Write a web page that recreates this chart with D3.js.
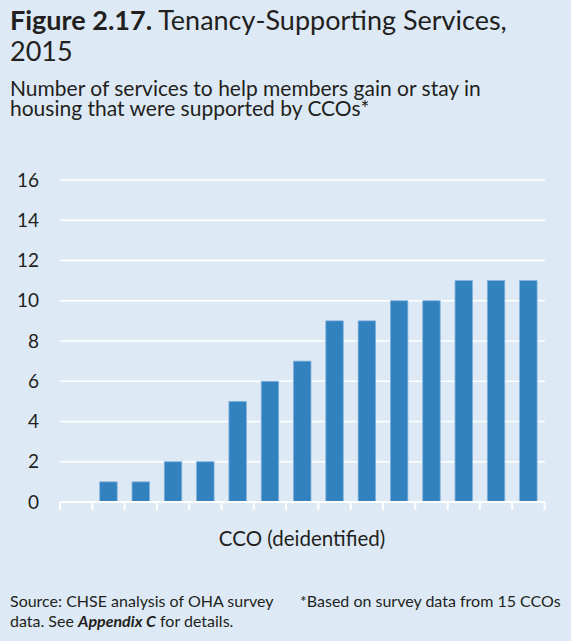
<!DOCTYPE html>
<html><head><meta charset="utf-8">
<script src="https://cdn.jsdelivr.net/npm/d3@7"></script>
<style>
html,body{margin:0;padding:0;background:#DDEAF6;}
svg{display:block;font-family:Lato,"Open Sans",sans-serif;}
</style></head>
<body><svg id="c" width="571" height="641"></svg>
<script>
const categories = d3.range(1,16).map(i=>"CCO "+i);
const values = [0,1,1,2,2,5,6,7,9,9,10,10,11,11,11];
const yTicks = [0,2,4,6,8,10,12,14,16];

const svg = d3.select("#c");
svg.append("rect").attr("width",571).attr("height",641).attr("fill","#DDEAF6");

const x = d3.scaleBand().domain(categories).range([60,544.5]).paddingInner(0.46).paddingOuter(0.23);
const y = d3.scaleLinear().domain([0,16]).range([502,180]);
const ink = "#231f20";

// title
const t = svg.append("text").attr("x",10).attr("y",30).attr("font-size",27).attr("fill",ink);
t.append("tspan").attr("font-weight","bold").text("Figure 2.17.");
t.append("tspan").text(" Tenancy-Supporting Services,");
svg.append("text").attr("x",10).attr("y",61).attr("font-size",27).attr("fill",ink).text("2015");
svg.append("text").attr("x",10).attr("y",96).attr("font-size",21).attr("fill",ink).text("Number of services to help members gain or stay in");
svg.append("text").attr("x",10).attr("y",116).attr("font-size",21).attr("fill",ink).text("housing that were supported by CCOs*");

// grid
svg.append("g").selectAll("line").data(yTicks.filter(d=>d>0)).join("line")
  .attr("x1",60).attr("x2",545).attr("y1",d=>y(d)).attr("y2",d=>y(d))
  .attr("stroke","#ffffff").attr("stroke-width",1.5);

// y labels
const ya = svg.append("g").attr("transform","translate(60,0)")
  .call(d3.axisLeft(y).tickValues(yTicks).tickSize(0).tickPadding(21));
ya.select(".domain").remove();
ya.selectAll("text").attr("font-size",19).attr("fill",ink).attr("font-family","Lato,sans-serif");

// bars
svg.append("g").selectAll("rect").data(values.map((v,i)=>({c:categories[i],v}))).join("rect")
  .attr("x",d=>x(d.c)).attr("width",x.bandwidth())
  .attr("y",d=>y(d.v)).attr("height",d=>y(0)-y(d.v))
  .attr("fill","#3282BF").attr("stroke","#7fb0dc").attr("stroke-width",d=>d.v>0?0.8:0);

// x axis line and ticks at band boundaries
const step = x.step();
const x0 = x(categories[0]) - x.paddingInner()*step/2;
svg.append("line").attr("x1",60).attr("x2",545).attr("y1",y(0)).attr("y2",y(0)).attr("stroke","#fff").attr("stroke-width",2);
svg.append("g").selectAll("line").data(d3.range(categories.length+1)).join("line")
  .attr("x1",i=>x0+i*step).attr("x2",i=>x0+i*step)
  .attr("y1",y(0)).attr("y2",y(0)+8).attr("stroke","#fff").attr("stroke-width",2);

svg.append("text").attr("x",302).attr("y",545.5).attr("text-anchor","middle").attr("font-size",20.5).attr("fill",ink).text("CCO (deidentified)");

// footnotes
svg.append("text").attr("x",10).attr("y",607).attr("font-size",16).attr("fill",ink).text("Source: CHSE analysis of OHA survey");
const f2 = svg.append("text").attr("x",10).attr("y",627).attr("font-size",16).attr("fill",ink);
f2.append("tspan").text("data. See ");
f2.append("tspan").attr("font-weight","bold").attr("font-style","italic").text("Appendix C");
f2.append("tspan").text(" for details.");
svg.append("text").attr("x",300).attr("y",607).attr("font-size",16).attr("fill",ink).text("*Based on survey data from 15 CCOs");
</script></body></html>
